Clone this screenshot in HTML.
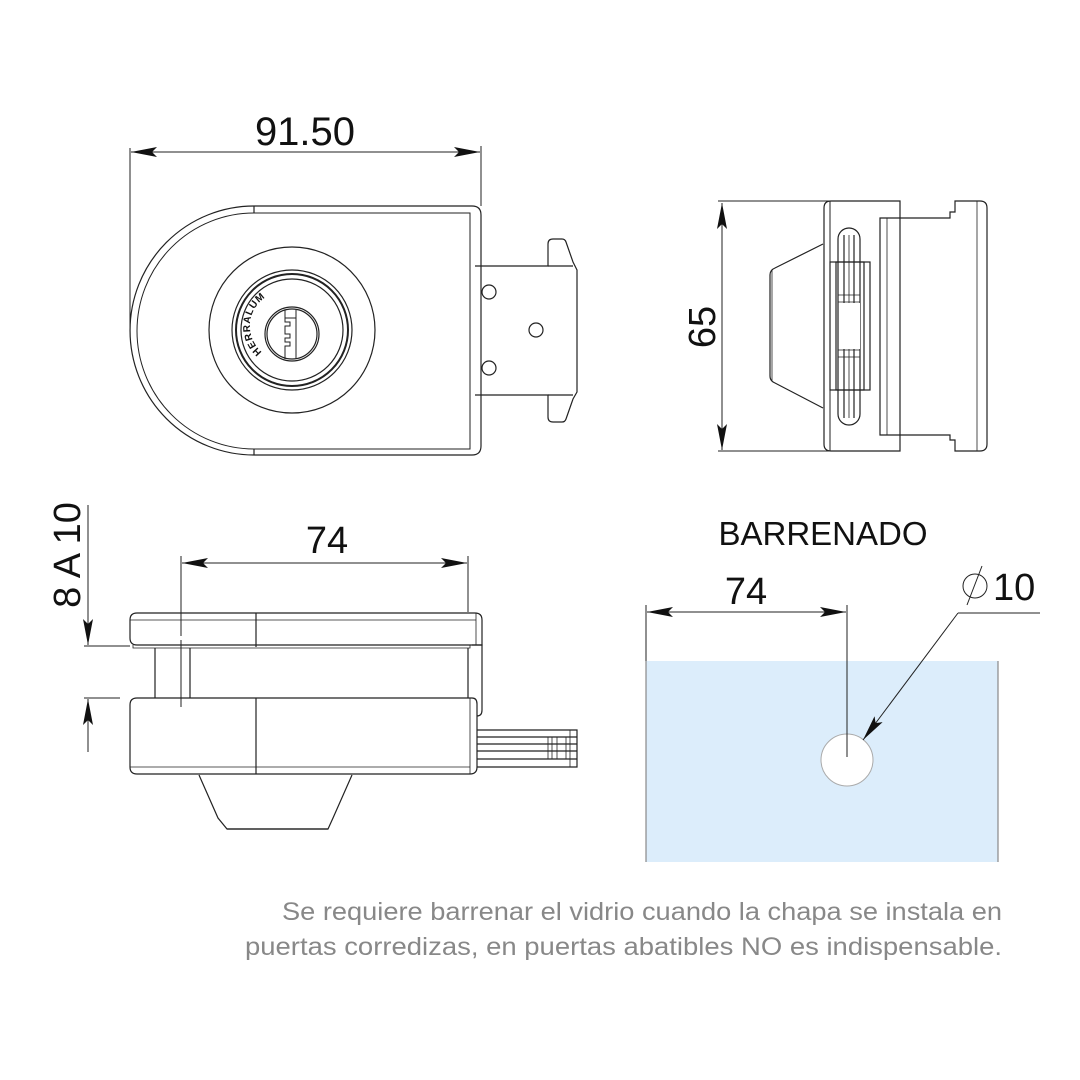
<!DOCTYPE html>
<html><head><meta charset="utf-8"><style>
html,body{margin:0;padding:0;background:#fff;}
svg{display:block;}
text{font-family:"Liberation Sans",sans-serif;}
</style></head><body>
<svg width="1080" height="1080" viewBox="0 0 1080 1080" xmlns="http://www.w3.org/2000/svg">
<defs>
<marker id="a" viewBox="0 0 26 10" refX="26" refY="5" markerWidth="26" markerHeight="10" markerUnits="userSpaceOnUse" orient="auto-start-reverse">
<path d="M0,0 L26,5 L0,10 L5,5 Z" fill="#111"/>
</marker>
<path id="arc" d="M262,352 A34,34 0 0 1 306,300"/>
</defs>
<g fill="none" stroke="#222" stroke-width="1.2">
<line x1="130" y1="148" x2="130" y2="330" stroke-width="1"/>
<line x1="481" y1="146" x2="481" y2="206" stroke-width="1"/>
<line x1="131" y1="152" x2="480" y2="152" marker-start="url(#a)" marker-end="url(#a)" stroke-width="1"/>

<path d="M254,206 L472,206 Q481,206 481,215 L481,446 Q481,455 472,455 L254,455 A124,124.5 0 0 1 254,206 Z"/>
<path d="M254,213 L470,213 L470,449 L254,449 A117,118 0 0 1 254,213 Z" stroke-width="1"/>
<line x1="254" y1="206" x2="254" y2="213"/>
<line x1="254" y1="449" x2="254" y2="455"/>
<circle cx="292" cy="330" r="83"/>
<circle cx="292" cy="330" r="60"/>
<circle cx="292" cy="330" r="56" stroke-width="2"/>
<circle cx="292" cy="330" r="51"/>
<circle cx="292" cy="334" r="27"/>
<circle cx="292" cy="334" r="25"/>
<path d="M285,310 L285,322 L290,322 L290,326 L285,326 L285,334 L290,334 L290,338 L285,338 L285,342 L290,342 L290,346 L285,346 L285,359 M296,310 L296,359 M285,318 L296,318" stroke-width="1"/>
<path d="M475,266 L548,266 L548,244 Q548,239 553,239 L562,239 Q565,239 566,242 L573,262 L577,270 L577,392 L573,399 L566,419 Q565,422 562,422 L553,422 Q548,422 548,417 L548,395 L475,395"/>
<line x1="548" y1="266" x2="573" y2="266"/>
<line x1="548" y1="395" x2="573" y2="395"/>
<circle cx="489" cy="292" r="7"/>
<circle cx="536" cy="330" r="7"/>
<circle cx="489" cy="368" r="7"/>

<line x1="722" y1="203" x2="722" y2="450" marker-start="url(#a)" marker-end="url(#a)" stroke-width="1"/>
<line x1="718" y1="201" x2="830" y2="201" stroke-width="1"/>
<line x1="718" y1="451" x2="830" y2="451" stroke-width="1"/>
<path d="M831,201 L900,201 L900,451 L831,451 Q824,451 824,444 L824,208 Q824,201 831,201 Z"/>
<line x1="830" y1="201" x2="830" y2="451" stroke-width="1"/>
<path d="M823,244 L775,268 Q770,270 770,275 L770,376 Q770,381 775,383 L823,408"/>
<line x1="772" y1="270" x2="772" y2="381" stroke-width="0.8"/>
<path d="M880,218 L950,218 L950,212 L955,212 L955,201 L980,201 Q987,201 987,208 L987,444 Q987,451 980,451 L955,451 L955,440 L950,440 L950,435 L880,435 Z"/>
<line x1="887" y1="218" x2="887" y2="435" stroke-width="0.8"/>
<line x1="977" y1="201" x2="977" y2="451" stroke-width="0.8"/>
<rect x="838" y="228" width="22" height="197" rx="11"/>
<rect x="830" y="262" width="40" height="128"/>
<rect x="836" y="262" width="28" height="128"/>
<line x1="844" y1="235" x2="844" y2="418"/>
<line x1="849" y1="235" x2="849" y2="418" stroke-width="0.8"/>
<line x1="854" y1="235" x2="854" y2="418"/>
<line x1="838" y1="295" x2="860" y2="295" stroke-width="0.8"/>
<line x1="838" y1="302" x2="860" y2="302" stroke-width="0.8"/>
<line x1="838" y1="350" x2="860" y2="350" stroke-width="0.8"/>
<line x1="838" y1="357" x2="860" y2="357" stroke-width="0.8"/>
<rect x="840" y="303" width="20" height="46" fill="#fff" stroke="none"/>

<line x1="88" y1="505" x2="88" y2="645" marker-end="url(#a)" stroke-width="1"/>
<line x1="88" y1="752" x2="88" y2="699" marker-end="url(#a)" stroke-width="1"/>
<line x1="84" y1="646" x2="130" y2="646" stroke-width="1"/>
<line x1="84" y1="698" x2="120" y2="698" stroke-width="1"/>
<line x1="182" y1="563" x2="467" y2="563" marker-start="url(#a)" marker-end="url(#a)" stroke-width="1"/>
<line x1="181" y1="556" x2="181" y2="636" stroke-width="1"/>
<line x1="181" y1="640" x2="181" y2="707" stroke-width="1"/>
<line x1="468" y1="556" x2="468" y2="612" stroke-width="1"/>
<path d="M137,613 L475,613 Q482,613 482,620 L482,645 L137,645 Q130,645 130,638 L130,620 Q130,613 137,613 Z"/>
<line x1="130" y1="620" x2="476" y2="620" stroke-width="0.8"/>
<line x1="476" y1="613" x2="476" y2="645" stroke-width="0.8"/>
<line x1="256" y1="613" x2="256" y2="647"/>
<path d="M133,645 L133,648 L470,648 L470,645" stroke-width="0.8"/>
<line x1="155" y1="648" x2="155" y2="698"/>
<line x1="190" y1="648" x2="190" y2="698"/>
<line x1="468" y1="648" x2="468" y2="698"/>
<path d="M472,645 L482,645 L482,710 Q482,716 477,716"/>
<path d="M137,698 L472,698 Q477,698 477,704 L477,767 Q477,774 470,774 L137,774 Q130,774 130,767 L130,705 Q130,698 137,698 Z"/>
<line x1="130" y1="767" x2="470" y2="767" stroke-width="0.8"/>
<line x1="470" y1="698" x2="470" y2="774" stroke-width="0.8"/>
<line x1="256" y1="698" x2="256" y2="774"/>
<path d="M477,730 L577,730 L577,767 L477,767"/>
<line x1="477" y1="737" x2="577" y2="737"/>
<line x1="477" y1="744" x2="577" y2="744"/>
<line x1="477" y1="751" x2="577" y2="751"/>
<line x1="477" y1="759" x2="577" y2="759"/>
<line x1="548" y1="737" x2="548" y2="759" stroke-width="0.8"/>
<line x1="552" y1="737" x2="552" y2="759" stroke-width="0.8"/>
<line x1="557" y1="737" x2="557" y2="759" stroke-width="0.8"/>
<line x1="566" y1="737" x2="566" y2="759" stroke-width="0.8"/>
<line x1="570" y1="730" x2="570" y2="767" stroke-width="0.8"/>
<path d="M199,775 L218,818 L227,829 L328,829 L333,818 L352,775"/>
<line x1="227" y1="829" x2="328" y2="829"/>
</g>

<rect x="646" y="661" width="352" height="201" fill="#dcedfb"/>
<line x1="646" y1="661" x2="646" y2="862" stroke="#888" stroke-width="1.2"/>
<line x1="998" y1="661" x2="998" y2="862" stroke="#888" stroke-width="1.2"/>
<circle cx="847" cy="760" r="26" fill="#fff" stroke="#aaa" stroke-width="1"/>
<g fill="none" stroke="#222" stroke-width="1">
<line x1="646" y1="605" x2="646" y2="661"/>
<line x1="847" y1="605" x2="847" y2="757"/>
<line x1="647" y1="612" x2="846" y2="612" marker-start="url(#a)" marker-end="url(#a)"/>
<line x1="1040" y1="613" x2="958" y2="613"/>
<line x1="958" y1="613" x2="863" y2="740" marker-end="url(#a)"/>
<circle cx="975" cy="586" r="12"/>
<line x1="967" y1="605" x2="982" y2="566"/>
</g>

<g fill="#111">
<text x="305" y="145" font-size="40" text-anchor="middle">91.50</text>
<text transform="translate(715,327) rotate(-90)" font-size="38" text-anchor="middle">65</text>
<text x="327" y="553" font-size="38" text-anchor="middle">74</text>
<text transform="translate(80,555) rotate(-90)" font-size="38" text-anchor="middle">8 A 10</text>
<text x="823" y="545" font-size="33" text-anchor="middle">BARRENADO</text>
<text x="746" y="604" font-size="38" text-anchor="middle">74</text>
<text x="993" y="600" font-size="38">10</text>
<text font-size="10" font-weight="bold" letter-spacing="0.8"><textPath href="#arc">HERRALUM</textPath></text>
</g>
<g fill="#888" font-size="25">
<text x="282" y="920" textLength="720" lengthAdjust="spacingAndGlyphs">Se requiere barrenar el vidrio cuando la chapa se instala en</text>
<text x="245" y="955" textLength="757" lengthAdjust="spacingAndGlyphs">puertas corredizas, en puertas abatibles NO es indispensable.</text>
</g>
</svg>
</body></html>
